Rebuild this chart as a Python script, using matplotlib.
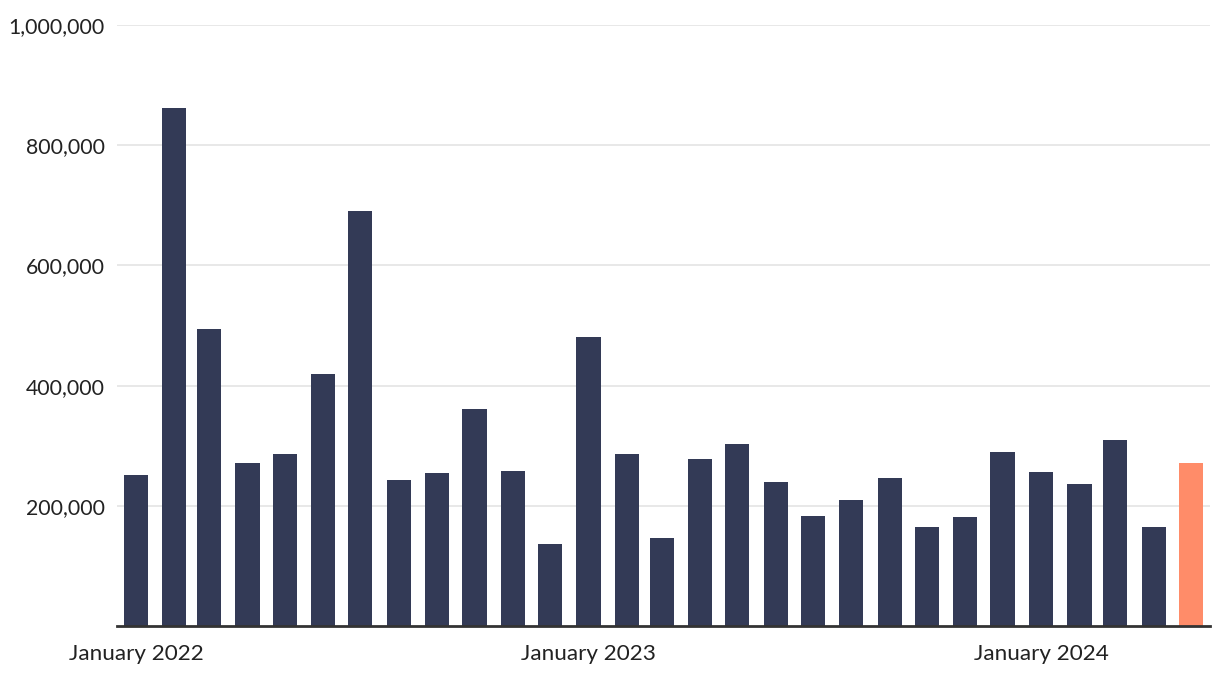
import matplotlib
matplotlib.use("Agg")
import matplotlib.pyplot as plt
import matplotlib.dates as mdates
import matplotlib.ticker as mticker
import numpy as np
import pandas as pd

months = pd.date_range("2022-01-01", "2024-05-01", freq="MS")
values = [251667, 861667, 495000, 271667, 286667, 420000, 690000, 243333,
          255000, 361667, 258333, 136667, 481667, 286667, 146667, 278333,
          303333, 240000, 183333, 210000, 246667, 165000, 181667, 290000,
          256667, 236667, 310000, 165000, 271667]
tick_dates = pd.to_datetime(["2022-01-01", "2023-01-01", "2024-01-01"])
tick_labels = ["January 2022", "January 2023", "January 2024"]
y_ticks = [200000, 400000, 600000, 800000, 1000000]

bar_color = "#333a56"
highlight = "#ff8c69"
colors = [bar_color] * (len(values) - 1) + [highlight]

plt.rcParams['font.family'] = ['Lato', 'DejaVu Sans']

fig = plt.figure(figsize=(12.2, 6.84), dpi=100)
ax = fig.add_axes([117/1220, 58/684, (1210-117)/1220, (626-25)/684])

x = mdates.date2num(months)
ax.bar(x, values, width=19.5, color=colors, zorder=3)

ax.set_xlim(x[0] - 15.3, x[-1] + 15.3)
ax.set_ylim(0, 1000000)

ax.set_yticks(y_ticks)
ax.yaxis.set_major_formatter(mticker.FuncFormatter(lambda v, p: f"{int(v):,}"))
ax.set_xticks(mdates.date2num(tick_dates))
ax.set_xticklabels(tick_labels)

ax.grid(axis="y", color="#e6e6e6", linewidth=1.3, zorder=0)
for s in ["top", "right", "left"]:
    ax.spines[s].set_visible(False)
ax.spines["bottom"].set_color("#333333")
ax.spines["bottom"].set_linewidth(2)
ax.spines["bottom"].set_zorder(4)

ax.tick_params(axis="y", length=0, pad=8.8, labelsize=15.3, labelcolor="#222222")
ax.tick_params(axis="x", length=0, pad=13, labelsize=16.2, labelcolor="#222222")

fig.savefig("out.png", dpi=100)
